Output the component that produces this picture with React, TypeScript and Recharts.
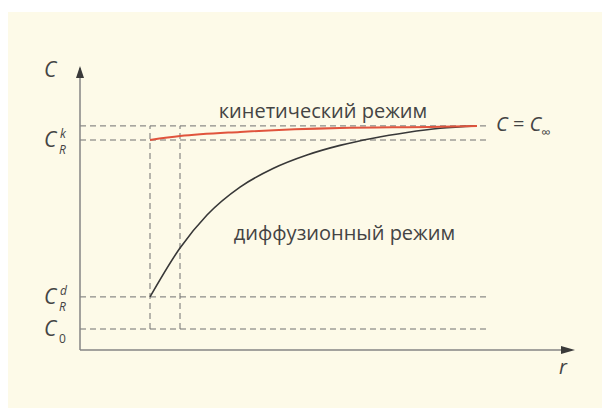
import { LineChart, Line, XAxis, YAxis, ReferenceLine, ReferenceDot } from "recharts";

// concentration levels on the C axis
const C_0 = 7;
const C_RD = 17.7;
const C_RK = 70;
const C_INF = 74.7;
const C_AXIS_LABEL = 93.3;

// radii
const R_START = 1.4;
const R_MARK = 2.0;
const R_GUIDE_END = 8.16;
const R_AXIS_END = 9.9;
const R_AXIS_LABEL = 9.66;

// diffusion regime curve
const diffR = [1.4, 2.0, 2.54, 3.2, 3.86, 4.54, 5.2, 5.86, 6.54, 7.2, 7.94];
const diffC = [17.7, 34, 45, 54.3, 60.5, 65, 68.2, 70.6, 72.5, 73.9, 74.7];

// kinetic regime curve
const kinR = [1.4, 2.0, 3.2, 5.2, 7.2, 7.94];
const kinC = [70, 71.3, 72.7, 74, 74.4, 74.7];

const diffData = diffR.map((r, i) => ({ r, c: diffC[i] }));
const kinData = kinR.map((r, i) => ({ r, c: kinC[i] }));

const FONT = "'Open Sans', 'Noto Sans', sans-serif";
const TEXT = "#444444";
const GUIDE = "#707070";
const AXIS = "#858585";

const yLabels: Record<number, { sub?: string; sup?: string }> = {
  [C_0]: { sub: "0" },
  [C_RD]: { sub: "R", sup: "d" },
  [C_RK]: { sub: "R", sup: "k" },
  [C_AXIS_LABEL]: {},
};

function YTick(props: any) {
  const { x, y, payload } = props;
  const lab = yLabels[payload.value] ?? {};
  const left = x - 28;
  return (
    <g fontFamily={FONT} fill={TEXT} fontStyle="italic">
      <text x={left} y={y + 7} fontSize={21}>C</text>
      {lab.sup && (
        <text x={left + 16} y={y - 2} fontSize={12}>{lab.sup}</text>
      )}
      {lab.sub && (
        <text x={left + 15} y={y + 14} fontSize={12} fontStyle={lab.sub === "0" ? "normal" : "italic"}>
          {lab.sub}
        </text>
      )}
    </g>
  );
}

function XTick(props: any) {
  const { x, y } = props;
  return (
    <text x={x} y={y + 16} textAnchor="middle" fontFamily={FONT} fontStyle="italic" fontSize={20} fill={TEXT}>
      r
    </text>
  );
}

const UpArrow = (p: any) => (
  <polygon points={`${p.cx},${p.cy} ${p.cx - 4},${p.cy + 12} ${p.cx + 4},${p.cy + 12}`} fill="#3a3a3a" />
);

const RightArrow = (p: any) => (
  <polygon points={`${p.cx},${p.cy} ${p.cx - 14},${p.cy - 4} ${p.cx - 14},${p.cy + 4}`} fill="#3a3a3a" />
);

const textAt = (content: React.ReactNode, anchor: string = "middle") => (p: any) => (
  <text x={p.cx} y={p.cy} textAnchor={anchor} dominantBaseline="middle" fontFamily={FONT} fontSize={20} fill={TEXT}>
    {content}
  </text>
);

const dashed = { stroke: GUIDE, strokeWidth: 1, strokeDasharray: "6 4" };

export default function App() {
  return (
    <div style={{ position: "absolute", left: 0, top: 0, width: 602, height: 408, background: "#ffffff" }}>
      <div style={{ position: "absolute", left: 8, top: 12, width: 594, height: 396, background: "#fdfae8" }} />
      <div style={{ position: "absolute", left: 0, top: 0 }}>
        <LineChart width={602} height={408} margin={{ top: 50, right: 22, bottom: 28, left: 0 }}>
          <XAxis
            type="number"
            dataKey="r"
            domain={[0, 10]}
            ticks={[R_AXIS_LABEL]}
            height={30}
            axisLine={false}
            tickLine={false}
            tick={<XTick />}
            allowDataOverflow
          />
          <YAxis
            type="number"
            dataKey="c"
            domain={[0, 100]}
            ticks={[C_0, C_RD, C_RK, C_AXIS_LABEL]}
            width={80}
            axisLine={false}
            tickLine={false}
            tick={<YTick />}
            allowDataOverflow
          />

          {/* guide lines */}
          <ReferenceLine segment={[{ x: 0, y: C_INF }, { x: R_GUIDE_END, y: C_INF }]} {...dashed} />
          <ReferenceLine segment={[{ x: 0, y: C_RK }, { x: R_GUIDE_END, y: C_RK }]} {...dashed} />
          <ReferenceLine segment={[{ x: 0, y: C_RD }, { x: R_GUIDE_END, y: C_RD }]} {...dashed} />
          <ReferenceLine segment={[{ x: 0, y: C_0 }, { x: R_GUIDE_END, y: C_0 }]} {...dashed} />
          <ReferenceLine segment={[{ x: R_START, y: C_0 }, { x: R_START, y: C_INF }]} {...dashed} />
          <ReferenceLine segment={[{ x: R_MARK, y: C_0 }, { x: R_MARK, y: C_INF }]} {...dashed} />

          {/* axes */}
          <ReferenceLine segment={[{ x: 0, y: 0 }, { x: 0, y: 94 }]} stroke={AXIS} strokeWidth={1.5} />
          <ReferenceLine segment={[{ x: 0, y: 0 }, { x: R_AXIS_END - 0.2, y: 0 }]} stroke={AXIS} strokeWidth={1.5} />
          <ReferenceDot x={0} y={94.7} r={0} shape={UpArrow} />
          <ReferenceDot x={R_AXIS_END} y={0} r={0} shape={RightArrow} />

          <Line
            data={diffData}
            dataKey="c"
            type="monotone"
            stroke="#383838"
            strokeWidth={1.6}
            dot={false}
            isAnimationActive={false}
          />
          <Line
            data={kinData}
            dataKey="c"
            type="monotone"
            stroke="#e0543d"
            strokeWidth={2}
            dot={false}
            isAnimationActive={false}
          />

          <ReferenceDot x={4.86} y={79} r={0} shape={textAt("кинетический режим")} />
          <ReferenceDot x={5.29} y={38.3} r={0} shape={textAt("диффузионный режим")} />
          <ReferenceDot
            x={8.32}
            y={C_INF}
            r={0}
            shape={textAt(
              <>
                <tspan fontStyle="italic">C</tspan>
                <tspan> = </tspan>
                <tspan fontStyle="italic">C</tspan>
                <tspan fontSize={13} dy={8}>∞</tspan>
              </>,
              "start"
            )}
          />
        </LineChart>
      </div>
    </div>
  );
}
